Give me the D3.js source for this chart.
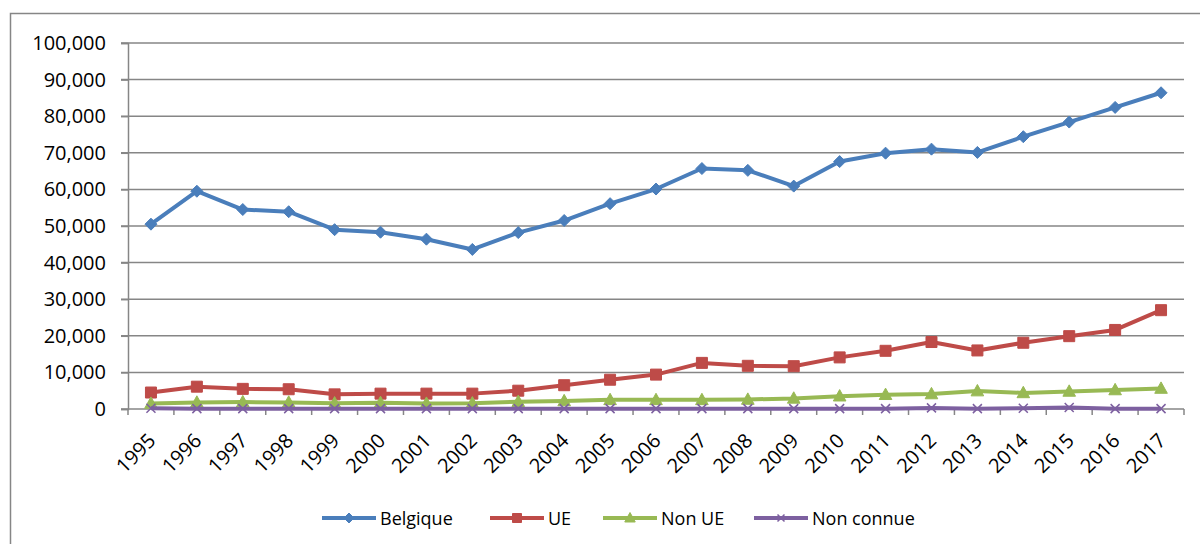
<!DOCTYPE html>
<html>
<head>
<meta charset="utf-8">
<script src="https://d3js.org/d3.v7.min.js"></script>
<style>
  body { margin: 0; background: #fff; }
  text { font-family: "Open Sans", sans-serif; fill: #000; }
</style>
</head>
<body>
<div id="chart"></div>
<script>
// data
var years = ["1995","1996","1997","1998","1999","2000","2001","2002","2003","2004","2005","2006",
             "2007","2008","2009","2010","2011","2012","2013","2014","2015","2016","2017"];
var belgique = [50500,59500,54500,53900,49000,48300,46400,43600,48200,51500,56100,60100,
                65700,65200,60900,67600,69900,71000,70100,74400,78400,82400,86400];
var ue = [4500,6100,5500,5400,4000,4200,4200,4200,5000,6500,8000,9400,
          12600,11800,11700,14100,15900,18300,16000,18100,19900,21600,27000];
var nonUe = [1500,1800,1900,1800,1600,1700,1500,1600,2000,2200,2500,2500,
             2500,2600,2900,3500,3900,4100,4900,4400,4800,5200,5600];
var nonConnue = [200,100,100,100,100,100,100,100,100,100,100,100,
                 100,100,100,100,100,300,100,200,400,100,100];
var yTicks = [0,10000,20000,30000,40000,50000,60000,70000,80000,90000,100000];

var series = [
  { name: "Belgique", values: belgique, color: "#4a7ebb", marker: "diamond" },
  { name: "UE", values: ue, color: "#be4b48", marker: "square" },
  { name: "Non UE", values: nonUe, color: "#98b954", marker: "triangle" },
  { name: "Non connue", values: nonConnue, color: "#7d60a0", marker: "x" }
];

var svg = d3.select("#chart").append("svg").attr("width", 1200).attr("height", 544);
var axisColor = "#868686";

// outer frame (right and bottom edges fall outside the picture)
svg.append("rect").attr("x", 10.5).attr("y", 13.5).attr("width", 1200).attr("height", 600)
  .attr("fill", "none").attr("stroke", axisColor).attr("stroke-width", 1.5);

var x = d3.scaleBand().domain(years).range([128, 1184]);
var y = d3.scaleLinear().domain([0, 100000]).range([409, 43]);
var cx = function (i) { return x(years[i]) + x.bandwidth() / 2; };

// gridlines
svg.append("g").selectAll("line").data(yTicks.slice(1)).enter().append("line")
  .attr("x1", 121).attr("x2", 1184)
  .attr("y1", function (d) { return y(d); }).attr("y2", function (d) { return y(d); })
  .attr("stroke", axisColor).attr("stroke-width", 1.5);

// y axis
var yAxis = d3.axisLeft(y).tickValues(yTicks).tickFormat(d3.format(",")).tickSize(7).tickPadding(15);
var gy = svg.append("g").attr("transform", "translate(128,0)").call(yAxis);
gy.select(".domain").attr("stroke", axisColor).attr("stroke-width", 1.5);
gy.selectAll(".tick line").attr("stroke", axisColor).attr("stroke-width", 1.5);
gy.selectAll("text").style("font-size", "20px");

// x axis
svg.append("line").attr("x1", 121).attr("x2", 1184).attr("y1", y(0)).attr("y2", y(0))
  .attr("stroke", axisColor).attr("stroke-width", 1.5);
var bounds = years.map(function (d) { return x(d); }).concat([x.range()[1]]);
svg.append("g").selectAll("line").data(bounds).enter().append("line")
  .attr("x1", function (d) { return d; }).attr("x2", function (d) { return d; })
  .attr("y1", y(0)).attr("y2", y(0) + 6)
  .attr("stroke", axisColor).attr("stroke-width", 1.5);

var xAxis = d3.axisBottom(x).tickSize(0);
var gx = svg.append("g").attr("transform", "translate(0," + y(0) + ")").call(xAxis);
gx.select(".domain").remove();
gx.selectAll("text")
  .style("font-size", "20px")
  .attr("text-anchor", "end")
  .attr("x", 0).attr("y", 0).attr("dy", 0)
  .attr("transform", "translate(6,33) rotate(-45)");

// marker shapes
function markerPath(type, s) {
  if (type === "diamond") return "M0," + (-s) + "L" + s + ",0L0," + s + "L" + (-s) + ",0Z";
  if (type === "square") return "M" + (-s) + "," + (-s) + "h" + (2 * s) + "v" + (2 * s) + "h" + (-2 * s) + "Z";
  if (type === "triangle") return "M0," + (-s * 1.1) + "L" + (s * 1.05) + "," + (s * 0.8) + "L" + (-s * 1.05) + "," + (s * 0.8) + "Z";
  return "M" + (-s) + "," + (-s) + "L" + s + "," + s + "M" + s + "," + (-s) + "L" + (-s) + "," + s;
}
var markerSize = { diamond: 6, square: 5.5, triangle: 6, x: 4.5 };

var line = d3.line().x(function (d, i) { return cx(i); }).y(function (d) { return y(d); });

series.forEach(function (s) {
  var g = svg.append("g");
  g.append("path").attr("d", line(s.values)).attr("fill", "none")
    .attr("stroke", s.color).attr("stroke-width", 4).attr("stroke-linejoin", "round");
  g.selectAll("path.m").data(s.values).enter().append("path").attr("class", "m")
    .attr("transform", function (d, i) { return "translate(" + cx(i) + "," + y(d) + ")"; })
    .attr("d", markerPath(s.marker, markerSize[s.marker]))
    .attr("fill", s.marker === "x" ? "none" : s.color)
    .attr("stroke", s.color).attr("stroke-width", s.marker === "x" ? 1.5 : 1);
});

// legend
var legendX = [322, 490, 603, 754];
series.forEach(function (s, i) {
  var g = svg.append("g").attr("transform", "translate(" + legendX[i] + ",518)");
  g.append("line").attr("x1", 0).attr("x2", 54).attr("stroke", s.color).attr("stroke-width", 4);
  g.append("path").attr("transform", "translate(27,0)")
    .attr("d", markerPath(s.marker, markerSize[s.marker] - 1))
    .attr("fill", s.marker === "x" ? "none" : s.color)
    .attr("stroke", s.color).attr("stroke-width", s.marker === "x" ? 1.5 : 1);
  g.append("text").attr("x", 58).attr("y", 6.5).style("font-size", "18px").text(s.name);
});
</script>
</body>
</html>
